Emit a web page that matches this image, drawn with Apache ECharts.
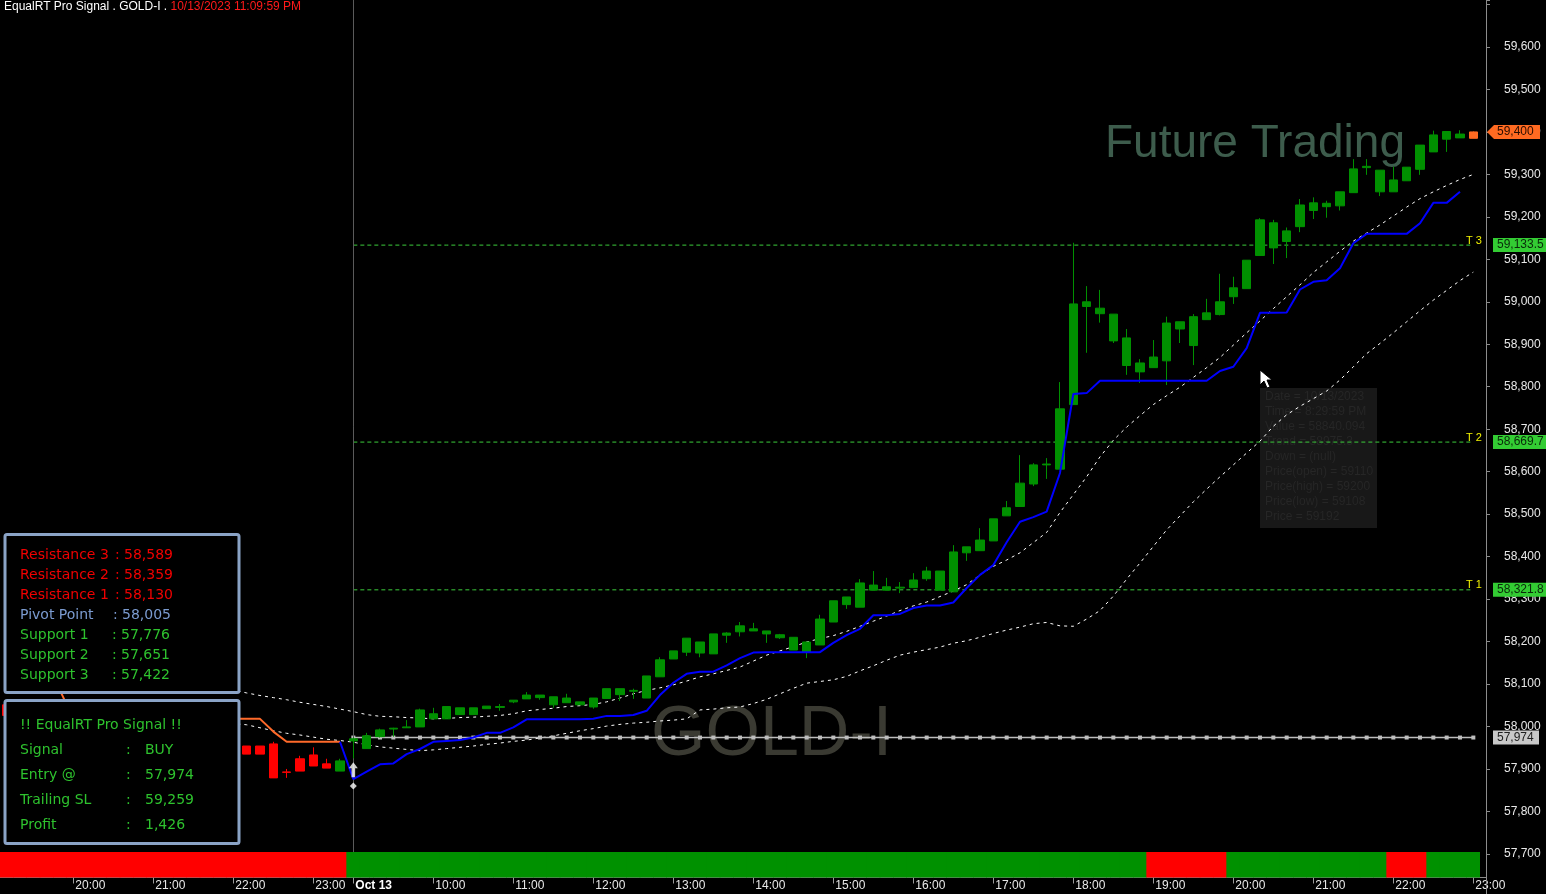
<!DOCTYPE html>
<html><head><meta charset="utf-8">
<script src="https://cdn.jsdelivr.net/npm/echarts@6/dist/echarts.min.js"></script>
<style>html,body{margin:0;padding:0;background:#000;overflow:hidden}#c{width:1546px;height:894px}</style>
</head><body><div id="c"></div>
<script>
// ---------- DATA ----------
const oct12Times = ['19:10','19:20','19:30','19:40','19:50','20:00','20:10','20:20','20:30','20:40','20:50','21:00','21:10','21:20','21:30','21:40','21:50','22:00','22:10','22:20','22:30','22:40','22:50','23:00','23:10','23:20'];
const oct13Times = ['09:00','09:10','09:20','09:30','09:40','09:50','10:00','10:10','10:20','10:30','10:40','10:50','11:00','11:10','11:20','11:30','11:40','11:50','12:00','12:10','12:20','12:30','12:40','12:50','13:00','13:10','13:20','13:30','13:40','13:50','14:00','14:10','14:20','14:30','14:40','14:50','15:00','15:10','15:20','15:30','15:40','15:50','16:00','16:10','16:20','16:30','16:40','16:50','17:00','17:10','17:20','17:30','17:40','17:50','18:00','18:10','18:20','18:30','18:40','18:50','19:00','19:10','19:20','19:30','19:40','19:50','20:00','20:10','20:20','20:30','20:40','20:50','21:00','21:10','21:20','21:30','21:40','21:50','22:00','22:10','22:20','22:30','22:40','22:50','23:00'];
const categories = oct12Times.map(t => '10/12 ' + t).concat(oct13Times.map(t => '10/13 ' + t));

const openP = [58051,58026,58012,58022,58001,58008,57982,57990,57985,57968,57975,57970,57958,57965,57960,57948,57955,57952,
57954,57954,57959,57893,57924,57933,57912,57895,
57966,57948,57976,57994,57997,57999,58018,58018,58028,58028,58042,58045,58058,58065,58068,58051,58056,58051,58046,58066,58075,58083,58067,58117,58159,58175,58173,58171,58215,58223,58225,58218,58209,58180,58175,58192,58246,58287,58281,58321,58321,58326,58327,58348,58321,58317,58409,58414,58437,58496,58518,58571,58616,58606,58758,58989,58972,58908,58850,58835,58845,58861,58936,58897,58958,58970,59012,59031,59109,59127,59142,59177,59215,59224,59226,59257,59316,59259,59259,59285,59312,59353,59383,59386,59385];
const highP = [58058,58035,58030,58028,58015,58012,57995,58002,57992,57980,57985,57978,57972,57975,57968,57962,57965,57960,
57954,57954,57964,57900,57931,57951,57924,57924,
57974,57985,57995,57997,58015,58042,58044,58047,58044,58044,58048,58053,58062,58081,58074,58070,58077,58058,58067,58089,58089,58089,58119,58163,58178,58208,58199,58218,58222,58246,58244,58225,58218,58210,58199,58263,58296,58305,58347,58366,58350,58340,58361,58376,58366,58427,58423,58467,58489,58531,58639,58620,58632,58811,59139,59037,59028,58971,58936,58865,58910,58965,58953,58971,59007,59066,59059,59098,59197,59193,59175,59242,59246,59238,59259,59336,59336,59310,59318,59317,59369,59403,59401,59404,59401];
const lowP = [58020,58005,58000,57995,57990,57975,57970,57978,57960,57955,57962,57950,57948,57955,57940,57940,57945,57940,
57935,57935,57879,57879,57895,57907,57902,57895,
57925,57948,57974,57976,57997,57999,58018,58018,58028,58028,58042,58037,58055,58065,58063,58044,58056,58051,58042,58066,58060,58065,58067,58117,58159,58166,58163,58171,58197,58212,58225,58197,58206,58180,58161,58192,58246,58277,58281,58321,58321,58314,58327,58343,58321,58317,58390,58414,58437,58496,58518,58566,58583,58606,58758,58880,58951,58903,58828,58809,58845,58804,58903,58851,58958,58968,58995,59031,59109,59089,59103,59164,59195,59198,59215,59257,59299,59249,59259,59285,59299,59353,59353,59386,59385];
const closeP = [58026,58012,58022,58001,58008,57982,57990,57985,57968,57975,57970,57958,57965,57960,57948,57955,57952,57954,
57935,57935,57879,57892,57895,57907,57902,57919,
57971,57978,57992,57996,57999,58039,58030,58047,58044,58044,58048,58047,58062,58074,58074,58070,58067,58058,58067,58089,58089,58085,58119,58157,58178,58208,58199,58218,58220,58237,58230,58225,58216,58210,58199,58253,58296,58305,58338,58333,58329,58328,58345,58366,58366,58411,58423,58439,58489,58515,58573,58616,58618,58748,58995,59000,58985,58971,58915,58856,58870,58950,58953,58965,58974,59000,59033,59098,59193,59186,59167,59228,59233,59232,59259,59313,59319,59310,59287,59317,59369,59393,59401,59395,59400];

// upper dotted band line
const ma1 = [58086,58086,58086,58086,58086,58086,58086,58086,58086,58086,58086,58086,58086,58086,58086,58086,58086,58086,
58079,58073,58068,58063,58057,58052,58047,58041,58035,58028,58024,58023,58021,58020,58018,58019,58021,58022,58024,58026,58030,58037,58040,58043,58047,58049,58052,58058,58067,58077,58085,58091,58098,58107,58117,58124,58132,58140,58154,58168,58178,58188,58199,58207,58214,58224,58236,58248,58260,58273,58284,58293,58306,58319,58334,58357,58377,58392,58409,58433,58457,58504,58546,58588,58635,58674,58705,58732,58758,58779,58799,58822,58845,58869,58898,58927,58955,58984,59012,59040,59069,59094,59119,59143,59162,59181,59202,59223,59243,59259,59274,59288,59300];
// lower dotted band line
const ma2 = [58030,58030,58029,58028,58027,58026,58025,58024,58023,58022,58021,58020,58019,58017,58015,58013,58010,58007,
58004,57997,57990,57984,57980,57975,57970,57967,57963,57957,57952,57949,57946,57943,57945,57948,57951,57954,57958,57961,57965,57968,57973,57978,57984,57990,57995,58001,58005,58008,58010,58013,58015,58018,58039,58041,58044,58046,58054,58064,58077,58090,58102,58106,58110,58118,58131,58143,58156,58168,58175,58181,58187,58196,58202,58210,58219,58227,58234,58242,58245,58237,58236,58253,58273,58307,58347,58385,58424,58463,58496,58529,58559,58588,58616,58644,58672,58707,58734,58754,58772,58790,58816,58847,58878,58902,58927,58953,58979,59004,59027,59050,59070];
// sell trailing stop (bars 0..25)
const sellTrail = [58085,58085,58085,58085,58085,58018,58018,58018,58018,58018,58018,58018,58018,58018,58018,58018,58018,58018,58018,58018,57988,57964,57964,57964,57964,57964];
// buy trailing stop (bars 25..109)
const buyTrail = [57964,57876,57894,57911,57913,57935,57947,57964,57966,57968,57974,57985,57985,57998,58017,58017,58017,58017,58017,58018,58025,58025,58027,58037,58074,58103,58124,58129,58129,58144,58161,58174,58175,58175,58175,58175,58175,58197,58215,58230,58262,58262,58265,58279,58285,58285,58292,58326,58357,58380,58434,58482,58493,58506,58597,58783,58785,58814,58814,58814,58814,58814,58814,58814,58814,58814,58837,58847,58891,58974,58974,58975,59029,59047,59051,59079,59138,59160,59160,59160,59160,59185,59233,59233,59259];
// bottom signal band: 0 = red, 1 = green
const bandSignal = [0,0,0,0,0,0,0,0,0,0,0,0,0,0,0,0,0,0,0,0,0,0,0,0,0,0,
1,1,1,1,1,1,1,1,1,1,1,1,1,1,1,1,1,1,1,1,1,1,1,1,1,1,1,1,1,1,1,1,1,1,1,1,1,1,1,1,1,1,1,1,1,1,1,1,1,1,1,1,1,1,1,1,1,1,1,1,
0,0,0,0,0,0,
1,1,1,1,1,1,1,1,1,1,1,1,
0,0,0,
1,1,1,1];
const entryPrice = 57974;
const entryIndex = 26;
const signalArrowPrice = 57898;
const signalDiamondPrice = 57860;
const targetNames = ['T 1','T 2','T 3'];
const targetValues = [58321.8, 58669.7, 59133.5];
const pivotLabels = ['Resistance 3','Resistance 2','Resistance 1','Pivot Point','Support 1','Support 2','Support 3'];
const pivotValues = [58589, 58359, 58130, 58005, 57776, 57651, 57422];
const tooltipLines = ['Date = 10/13/2023','Time = 8:29:59 PM','Value = 58840.094','Trend = 58975.3','Down = (null)','Price(open) = 59110','Price(high) = 59200','Price(low) = 59108','Price = 59192'];

// ---------- CHART ----------
const N = categories.length;
const fmt = v => Number(v).toLocaleString('en-US');
const padArr = (arr, start) => { const o = new Array(N).fill(null); arr.forEach((v, k) => { o[start + k] = v; }); return o; };
const RED = '#ff0000', GREEN = '#009000', ORANGE = '#ff6a21';

const candleData = categories.map((c, i) => {
  const col = i === N - 1 ? ORANGE : (i <= 24 ? RED : GREEN);
  return { value: [openP[i], closeP[i], lowP[i], highP[i]],
    itemStyle: { color: col, color0: col, borderColor: col, borderColor0: col } };
});
const levelLine = v => categories.map((c, i) => i >= entryIndex ? v : null);
const isHour = (idx, val) => /:00$/.test(val);
const AXFONT = 'Liberation Sans, Arial, sans-serif';

const series = [
  { type: 'candlestick', xAxisIndex: 0, yAxisIndex: 0, data: candleData, barWidth: 9, z: 5,
    itemStyle: { borderWidth: 1 },
    markLine: { silent: true, symbol: ['none', 'none'], label: { show: false },
      lineStyle: { color: '#5a5a5a', width: 1, type: 'solid' },
      data: [{ xAxis: categories[entryIndex] }] } },
  { type: 'line', data: ma1, symbol: 'none', lineStyle: { color: '#ffffff', width: 1, type: [3, 4] }, z: 3 },
  { type: 'line', data: ma2, symbol: 'none', lineStyle: { color: '#ffffff', width: 1, type: [3, 4] }, z: 3 },
  { type: 'line', data: levelLine(entryPrice), symbol: 'rect', symbolSize: 4, showSymbol: true,
    itemStyle: { color: '#bdbdbd' }, lineStyle: { color: '#bdbdbd', width: 1.5 }, z: 3 },
  ...targetValues.map(v => ({ type: 'line', data: levelLine(v), symbol: 'none',
    lineStyle: { color: '#3ccc3c', width: 1, type: [4, 3] }, z: 3 })),
  { type: 'line', data: padArr(sellTrail, 0), symbol: 'none', lineStyle: { color: '#ff6a2a', width: 2 }, z: 4 },
  { type: 'line', data: padArr(buyTrail, 25), symbol: 'none', lineStyle: { color: '#0000ff', width: 2 }, z: 6 },
  { type: 'scatter', data: [[entryIndex, signalArrowPrice]], symbol: 'path://M5,0 L10,6 L7,6 L7,15 L3,15 L3,6 L0,6 Z',
    symbolSize: [9, 15], itemStyle: { color: '#ffffff' }, z: 7 },
  { type: 'scatter', data: [[entryIndex, signalDiamondPrice]], symbol: 'diamond', symbolSize: 7,
    itemStyle: { color: '#ffffff' }, z: 7 },
  { type: 'bar', xAxisIndex: 1, yAxisIndex: 1, barWidth: 14, barGap: '-100%',
    data: bandSignal.map(s => ({ value: 1, itemStyle: { color: s ? '#009100' : '#ff0000' } })), z: 8 }
];
series.forEach(s => { if (s.type === 'line') { s.xAxisIndex = 0; s.yAxisIndex = 0; s.connectNulls = false; } });

// price scale: 100 points = 42.47 px, 57,700 sits at y = 854
const yMin = 57700, yMax = 59710.67;
const chart = echarts.init(document.getElementById('c'));
chart.setOption({
  backgroundColor: '#000000',
  animation: false,
  title: { left: 4, top: 1, padding: 0, text: '{w|EqualRT Pro Signal . GOLD-I . }{r|10/13/2023 11:09:59 PM}',
    textStyle: { fontSize: 12, fontFamily: AXFONT, fontWeight: 'normal',
      rich: { w: { color: '#ffffff', fontSize: 12, fontFamily: AXFONT }, r: { color: '#ff1a1a', fontSize: 12, fontFamily: AXFONT } } } },
  grid: [
    { left: 0, right: 66, top: 0, height: 853.9 },
    { left: 0, right: 66, top: 852, height: 25.5 }
  ],
  xAxis: [
    { gridIndex: 0, type: 'category', data: categories, boundaryGap: true, show: false },
    { gridIndex: 1, type: 'category', data: categories, boundaryGap: true,
      axisLine: { show: true, lineStyle: { color: '#8c8c8c', width: 1 } },
      axisTick: { show: true, alignWithLabel: true, interval: isHour, length: 6, lineStyle: { color: '#9a9a9a' } },
      axisLabel: { interval: isHour, align: 'left', margin: 2, padding: [0, 0, 0, 2], color: '#e8e8e8', fontSize: 12, fontFamily: AXFONT,
        formatter: v => v === '10/13 09:00' ? '{b|Oct 13}' : v.slice(6),
        rich: { b: { fontWeight: 'bold', color: '#ffffff', fontSize: 12, fontFamily: AXFONT } } } }
  ],
  yAxis: [
    { gridIndex: 0, type: 'value', position: 'right', offset: 6, min: yMin, max: yMax, interval: 100,
      splitLine: { show: false },
      axisLine: { show: true, lineStyle: { color: '#8c8c8c' } },
      axisTick: { show: true, length: 4, lineStyle: { color: '#8c8c8c' } },
      axisLabel: { margin: 18, color: '#e8e8e8', fontSize: 12, fontFamily: AXFONT,
        formatter: v => (v >= 57700 && v <= 59600 && Math.abs(v % 100) < 1e-6) ? fmt(v) : '' } },
    { gridIndex: 1, type: 'value', min: 0, max: 1, show: false }
  ],
  series
});

// ---------- OVERLAYS (positioned through the chart's scales) ----------
const yPix = v => chart.convertToPixel({ yAxisIndex: 0 }, v);
const TXT = (text, x, y, fill, font, align) => ({ type: 'text', z: 60,
  style: { text, x, y, fill, font, textAlign: align || 'left', textVerticalAlign: 'middle', align: align || 'left', verticalAlign: 'middle' } });
const BOXFONT = '14px "DejaVu Sans", Verdana, sans-serif';
const g = [];
// axis line continuation below the price grid
const axisX = 1486.5;
g.push({ type: 'line', z: 10, shape: { x1: axisX, y1: yPix(yMin), x2: axisX, y2: 894 }, style: { stroke: '#8c8c8c', lineWidth: 1 } });
g.push({ type: 'line', z: 10, shape: { x1: 1480, y1: 877.5, x2: axisX, y2: 877.5 }, style: { stroke: '#8c8c8c', lineWidth: 1 } });
// watermarks
g.push({ type: 'text', z: 0, style: { text: 'Future Trading', x: 1105, y: 144, fill: '#3d5c4c', font: '46px "Liberation Sans", Arial', textVerticalAlign: 'middle', verticalAlign: 'middle' } });
g.push({ type: 'text', z: 0, style: { text: 'GOLD-I', x: 651, y: 736, fill: '#3a3a32', font: '70px "Liberation Sans", Arial', textVerticalAlign: 'middle', verticalAlign: 'middle' } });
// ghost tooltip
g.push({ type: 'rect', z: 0, shape: { x: 1260, y: 388, width: 117, height: 140 }, style: { fill: '#181818' } });
tooltipLines.forEach((t, k) => g.push({ type: 'text', z: 0, style: { text: t, x: 1265, y: 397 + k * 15, fill: '#262626', font: '12px "Liberation Sans", Arial', textVerticalAlign: 'middle', verticalAlign: 'middle' } }));
// pivot box
g.push({ type: 'rect', z: 50, shape: { x: 5, y: 534.5, width: 234, height: 158, r: 2 }, style: { fill: '#000000', stroke: '#8aa3c6', lineWidth: 3 } });
const pivotColors = ['#f00000', '#f00000', '#f00000', '#7b9bd0', '#2ec22e', '#2ec22e', '#2ec22e'];
const colonX = [115, 115, 115, 113, 112, 112, 112];
pivotLabels.forEach((lab, k) => {
  const y = 555 + k * 20;
  g.push(TXT(lab, 20, y, pivotColors[k], BOXFONT));
  g.push(TXT(':', colonX[k], y, pivotColors[k], BOXFONT));
  g.push(TXT(fmt(pivotValues[k]), colonX[k] + 9, y, pivotColors[k], BOXFONT));
});
// signal box
g.push({ type: 'rect', z: 50, shape: { x: 5, y: 700.5, width: 234, height: 143, r: 2 }, style: { fill: '#000000', stroke: '#8aa3c6', lineWidth: 3 } });
const trailNow = buyTrail[buyTrail.length - 1];
const lastPrice = closeP[N - 1];
const sigRows = [['Signal', 'BUY'], ['Entry @', fmt(entryPrice)], ['Trailing SL', fmt(trailNow)], ['Profit', fmt(lastPrice - entryPrice)]];
g.push(TXT('!! EqualRT Pro Signal !!', 20, 725, '#2ec22e', BOXFONT));
sigRows.forEach((r, k) => {
  const y = 750 + k * 25;
  g.push(TXT(r[0], 20, y, '#2ec22e', BOXFONT));
  g.push(TXT(':', 126, y, '#2ec22e', BOXFONT));
  g.push(TXT(r[1], 145, y, '#2ec22e', BOXFONT));
});
// target labels + price tags
const TAGFONT = '12px "Liberation Sans", Arial';
targetValues.forEach((v, k) => {
  const y = yPix(v);
  g.push(TXT(targetNames[k], 1466, y - 4.5, '#f0f000', '11px "Liberation Sans", Arial'));
  g.push({ type: 'rect', z: 60, shape: { x: 1493, y: y - 7, width: 53, height: 14 }, style: { fill: '#33cc33' } });
  g.push(TXT(fmt(v), 1497, y, '#0a2a0a', TAGFONT));
});
{
  const y = yPix(entryPrice);
  g.push({ type: 'rect', z: 60, shape: { x: 1493, y: y - 7, width: 46, height: 14 }, style: { fill: '#c8c8c8' } });
  g.push(TXT(fmt(entryPrice), 1497, y, '#202020', TAGFONT));
}
{
  const y = yPix(lastPrice);
  g.push({ type: 'polygon', z: 60, shape: { points: [[1487, y], [1494, y - 7], [1540, y - 7], [1540, y + 7], [1494, y + 7]] }, style: { fill: ORANGE } });
  g.push(TXT(fmt(lastPrice), 1497, y, '#2a0d00', TAGFONT));
}
// mouse cursor
g.push({ type: 'polygon', z: 70, shape: { points: [[1260, 370], [1260, 385], [1264, 381], [1267, 388], [1270, 387], [1267, 380], [1272, 380]] }, style: { fill: '#ffffff', stroke: '#000000', lineWidth: 1 } });

chart.setOption({ graphic: { elements: g } });
</script>
</body></html>
